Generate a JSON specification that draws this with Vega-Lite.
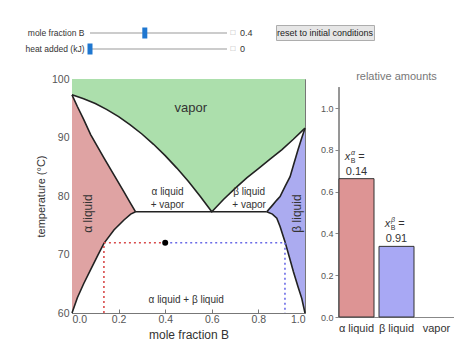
{
  "$schema": "https://vega.github.io/schema/vega-lite/v6.json",
  "background": "white",
  "padding": {"left": 24, "top": 24, "right": 0, "bottom": 0},
  "config": {"font": "Liberation Sans", "view": {"stroke": null}, "axis": {"grid": false}},
  "datasets": {
    "controls": [
      {"control": "mole fraction B", "value": 0.4},
      {"control": "heat added (kJ)", "value": 0}
    ],
    "vap": [
      {"x": 0, "T": 97.3}, {"x": 0.05, "T": 96.64}, {"x": 0.1, "T": 95.8}, {"x": 0.15, "T": 94.77},
      {"x": 0.2, "T": 93.56}, {"x": 0.25, "T": 92.17}, {"x": 0.3, "T": 90.6}, {"x": 0.35, "T": 88.84},
      {"x": 0.4, "T": 86.9}, {"x": 0.45, "T": 84.77}, {"x": 0.5, "T": 82.47}, {"x": 0.55, "T": 79.97},
      {"x": 0.6, "T": 77.3}, {"x": 0.65, "T": 79.4}, {"x": 0.7, "T": 81.3}, {"x": 0.75, "T": 83.1},
      {"x": 0.8, "T": 84.7}, {"x": 0.85, "T": 86.3}, {"x": 0.9, "T": 87.9}, {"x": 0.95, "T": 89.7},
      {"x": 1, "T": 91.6}
    ],
    "alpha": [
      {"x": 0, "top": 97.3, "bottom": 60}, {"x": 0.023, "top": 95.3, "bottom": 62.6},
      {"x": 0.05, "top": 93.1, "bottom": 65.0}, {"x": 0.08, "top": 90.5, "bottom": 67.4},
      {"x": 0.11, "top": 88.4, "bottom": 69.8}, {"x": 0.137, "top": 86.5, "bottom": 71.9},
      {"x": 0.18, "top": 83.6, "bottom": 74.2}, {"x": 0.223, "top": 80.7, "bottom": 75.9},
      {"x": 0.252, "top": 78.7, "bottom": 76.9}, {"x": 0.273, "top": 77.3, "bottom": 77.3}
    ],
    "beta": [
      {"x": 0.836, "top": 77.3, "bottom": 77.3}, {"x": 0.86, "top": 78.4, "bottom": 76.9},
      {"x": 0.879, "top": 79.3, "bottom": 76.2}, {"x": 0.893, "top": 79.9, "bottom": 74.8},
      {"x": 0.914, "top": 81.6, "bottom": 72.2}, {"x": 0.936, "top": 83.3, "bottom": 69.1},
      {"x": 0.95, "top": 85.2, "bottom": 67.1}, {"x": 0.97, "top": 87.9, "bottom": 64.5},
      {"x": 0.986, "top": 89.9, "bottom": 62.5}, {"x": 1, "top": 91.6, "bottom": 60}
    ],
    "eut": [{"x": 0.273, "x2": 0.836, "T": 77.3}],
    "tie": [
      {"phase": "α", "x": 0.137, "x2": 0.137, "y": 60, "y2": 72},
      {"phase": "α", "x": 0.137, "x2": 0.4, "y": 72, "y2": 72},
      {"phase": "β", "x": 0.4, "x2": 0.914, "y": 72, "y2": 72},
      {"phase": "β", "x": 0.914, "x2": 0.914, "y": 72, "y2": 60}
    ],
    "state": [{"x": 0.4, "T": 72}],
    "amounts": [
      {"phase": "α liquid", "amount": 0.662, "xb": "0.14", "sup": "α"},
      {"phase": "β liquid", "amount": 0.338, "xb": "0.91", "sup": "β"},
      {"phase": "vapor", "amount": 0}
    ]
  },
  "vconcat": [
    {
      "spacing": 22,
      "hconcat": [
        {
          "width": 155,
          "height": 32,
          "data": {"name": "controls"},
          "encoding": {
            "y": {"field": "control", "type": "nominal", "sort": null,
              "scale": {"paddingInner": 0, "paddingOuter": 0},
              "axis": {"title": null, "ticks": false, "domain": false, "offset": -16, "labelFontSize": 8.5, "labelColor": "#333", "labelPadding": 4}}
          },
          "layer": [
            {"mark": {"type": "rule", "color": "#cccccc", "strokeWidth": 2},
              "encoding": {"x": {"datum": 0, "type": "quantitative", "scale": {"domain": [-0.1314, 1], "nice": false, "zero": false}, "axis": null}, "x2": {"datum": 1}}},
            {"mark": {"type": "tick", "color": "#1f77d0", "thickness": 5, "size": 11, "orient": "vertical", "opacity": 1},
              "encoding": {"x": {"field": "value", "type": "quantitative"}}},
            {"mark": {"type": "text", "text": "□", "fontSize": 8, "color": "#aaaaaa", "dx": 6},
              "encoding": {"x": {"datum": 1, "type": "quantitative"}}},
            {"mark": {"type": "text", "align": "left", "dx": 13, "fontSize": 9, "color": "#333"},
              "encoding": {"x": {"datum": 1, "type": "quantitative"}, "text": {"field": "value", "type": "quantitative"}}}
          ]
        },
        {
          "width": 98,
          "height": 15,
          "view": {"fill": "#e6e6e6", "stroke": "#adadad"},
          "data": {"values": [{"label": "reset to initial conditions"}]},
          "mark": {"type": "text", "fontSize": 9, "color": "#222"},
          "encoding": {"text": {"field": "label"}}
        }
      ]
    },
    {
      "spacing": 11,
      "resolve": {"scale": {"color": "independent"}},
      "hconcat": [
        {
          "width": 233,
          "height": 234,
          "view": {"stroke": "#777777", "strokeWidth": 1},
          "layer": [
            {
              "data": {"name": "vap"},
              "mark": {"type": "area", "color": "#acdfac", "opacity": 1},
              "encoding": {
                "x": {"field": "x", "type": "quantitative", "scale": {"domain": [0, 1], "nice": false},
                  "axis": {"title": "mole fraction B", "values": [0, 0.2, 0.4, 0.6, 0.8, 1], "format": ".1f",
                    "tickSize": -4, "tickColor": "#777", "domainColor": "#777", "labelFontSize": 10.5, "labelColor": "#555",
                    "labelPadding": 5, "titleFontSize": 12, "titleFontWeight": "normal", "titleColor": "#333", "titlePadding": 5}},
                "y": {"field": "T", "type": "quantitative", "scale": {"domain": [60, 100], "nice": false, "zero": false},
                  "axis": {"title": "temperature (°C)", "values": [60, 70, 80, 90, 100],
                    "tickSize": -4, "tickColor": "#777", "domainColor": "#777", "labelFontSize": 10.5, "labelColor": "#555",
                    "labelPadding": 7, "titleFontSize": 11, "titleFontWeight": "normal", "titleColor": "#333", "titlePadding": 5}},
                "y2": {"datum": 100}
              }
            },
            {
              "data": {"name": "alpha"},
              "mark": {"type": "area", "color": "#dfa3a3", "opacity": 1},
              "encoding": {"x": {"field": "x", "type": "quantitative"}, "y": {"field": "top", "type": "quantitative"}, "y2": {"field": "bottom"}}
            },
            {
              "data": {"name": "beta"},
              "mark": {"type": "area", "color": "#ababf0", "opacity": 1},
              "encoding": {"x": {"field": "x", "type": "quantitative"}, "y": {"field": "top", "type": "quantitative"}, "y2": {"field": "bottom"}}
            },
            {
              "data": {"name": "vap"},
              "mark": {"type": "line", "color": "#222", "strokeWidth": 1.6},
              "encoding": {"x": {"field": "x", "type": "quantitative"}, "y": {"field": "T", "type": "quantitative"}}
            },
            {
              "data": {"name": "alpha"},
              "mark": {"type": "line", "color": "#222", "strokeWidth": 1.6},
              "encoding": {"x": {"field": "x", "type": "quantitative"}, "y": {"field": "top", "type": "quantitative"}}
            },
            {
              "data": {"name": "alpha"},
              "mark": {"type": "line", "color": "#222", "strokeWidth": 1.6},
              "encoding": {"x": {"field": "x", "type": "quantitative"}, "y": {"field": "bottom", "type": "quantitative"}}
            },
            {
              "data": {"name": "beta"},
              "mark": {"type": "line", "color": "#222", "strokeWidth": 1.6},
              "encoding": {"x": {"field": "x", "type": "quantitative"}, "y": {"field": "top", "type": "quantitative"}}
            },
            {
              "data": {"name": "beta"},
              "mark": {"type": "line", "color": "#222", "strokeWidth": 1.6},
              "encoding": {"x": {"field": "x", "type": "quantitative"}, "y": {"field": "bottom", "type": "quantitative"}}
            },
            {
              "data": {"name": "eut"},
              "mark": {"type": "rule", "color": "#222", "strokeWidth": 1.6},
              "encoding": {"x": {"field": "x", "type": "quantitative"}, "x2": {"field": "x2"}, "y": {"field": "T", "type": "quantitative"}}
            },
            {
              "data": {"name": "tie"},
              "mark": {"type": "rule", "strokeDash": [2, 3], "strokeWidth": 1.6},
              "encoding": {
                "x": {"field": "x", "type": "quantitative"}, "x2": {"field": "x2"},
                "y": {"field": "y", "type": "quantitative"}, "y2": {"field": "y2"},
                "color": {"field": "phase", "type": "nominal", "scale": {"domain": ["α", "β"], "range": ["#d84a4a", "#6a6ae6"]}, "legend": null}
              }
            },
            {
              "data": {"name": "state"},
              "mark": {"type": "point", "filled": true, "color": "black", "size": 36, "opacity": 1},
              "encoding": {"x": {"field": "x", "type": "quantitative"}, "y": {"field": "T", "type": "quantitative"}}
            },
            {
              "data": {"values": [{"x": 0.51, "T": 95, "label": "vapor"}]},
              "mark": {"type": "text", "fontSize": 13, "color": "#333"},
              "encoding": {"x": {"field": "x", "type": "quantitative"}, "y": {"field": "T", "type": "quantitative"}, "text": {"field": "label"}}
            },
            {
              "data": {"values": [
                {"x": 0.41, "T": 80.6, "label": "α liquid\n+ vapor"},
                {"x": 0.76, "T": 80.6, "label": "β liquid\n+ vapor"},
                {"x": 0.49, "T": 62.2, "label": "α liquid + β liquid"}
              ]},
              "mark": {"type": "text", "fontSize": 10, "color": "#333", "lineBreak": "\n", "lineHeight": 13},
              "encoding": {"x": {"field": "x", "type": "quantitative"}, "y": {"field": "T", "type": "quantitative"}, "text": {"field": "label"}}
            },
            {
              "data": {"values": [
                {"x": 0.069, "T": 77, "label": "α liquid"},
                {"x": 0.966, "T": 77, "label": "β liquid"}
              ]},
              "mark": {"type": "text", "fontSize": 12, "color": "#333", "angle": 270},
              "encoding": {"x": {"field": "x", "type": "quantitative"}, "y": {"field": "T", "type": "quantitative"}, "text": {"field": "label"}}
            }
          ]
        },
        {
          "width": 115,
          "height": 238,
          "data": {"name": "amounts"},
          "title": {"text": "relative amounts", "fontSize": 11, "fontWeight": "normal", "color": "#777", "offset": -3},
          "encoding": {
            "x": {"field": "phase", "type": "nominal", "sort": null,
              "scale": {"domain": ["α liquid", "β liquid", "vapor"], "paddingInner": 0.125, "paddingOuter": 0},
              "axis": {"title": null, "labelAngle": 0, "ticks": false, "domainColor": "#888", "labelFontSize": 11, "labelColor": "#333", "labelPadding": 5}},
            "y": {"field": "amount", "type": "quantitative", "scale": {"domain": [0, 1.139], "nice": false},
              "axis": {"title": null, "values": [0, 0.2, 0.4, 0.6, 0.8, 1], "format": ".1f", "tickSize": 4, "tickColor": "#888",
                "domain": false, "labelFontSize": 9, "labelColor": "#555", "labelPadding": 2}}
          },
          "layer": [
            {
              "mark": {"type": "rule", "color": "#888", "strokeWidth": 1},
              "encoding": {"x": {"datum": "α liquid", "bandPosition": 0}, "y": {"datum": 0, "type": "quantitative"}, "y2": {"datum": 1.1}}
            },
            {
              "transform": [{"filter": "datum.amount > 0"}],
              "mark": {"type": "bar", "stroke": "#333", "strokeWidth": 1},
              "encoding": {"color": {"field": "phase", "type": "nominal", "sort": null,
                "scale": {"domain": ["α liquid", "β liquid", "vapor"], "range": ["#dd9494", "#a8a8f4", "#acdfac"]}, "legend": null}}
            },
            {
              "transform": [{"filter": "datum.xb != null"}],
              "mark": {"type": "text", "fontSize": 11, "color": "#333", "baseline": "middle", "dy": -7},
              "encoding": {"text": {"field": "xb"}}
            },
            {
              "transform": [{"filter": "datum.xb != null"}],
              "mark": {"type": "text", "text": "x", "fontSize": 11, "fontStyle": "italic", "color": "#333", "baseline": "middle", "dx": -9, "dy": -22}
            },
            {
              "transform": [{"filter": "datum.xb != null"}],
              "mark": {"type": "text", "fontSize": 7, "fontStyle": "italic", "color": "#333", "baseline": "middle", "dx": -3.5, "dy": -26},
              "encoding": {"text": {"field": "sup"}}
            },
            {
              "transform": [{"filter": "datum.xb != null"}],
              "mark": {"type": "text", "text": "B", "fontSize": 7, "color": "#333", "baseline": "middle", "dx": -3.5, "dy": -18}
            },
            {
              "transform": [{"filter": "datum.xb != null"}],
              "mark": {"type": "text", "text": "=", "fontSize": 11, "color": "#333", "baseline": "middle", "dx": 5, "dy": -22}
            }
          ]
        }
      ]
    }
  ],
  "spacing": 14
}
